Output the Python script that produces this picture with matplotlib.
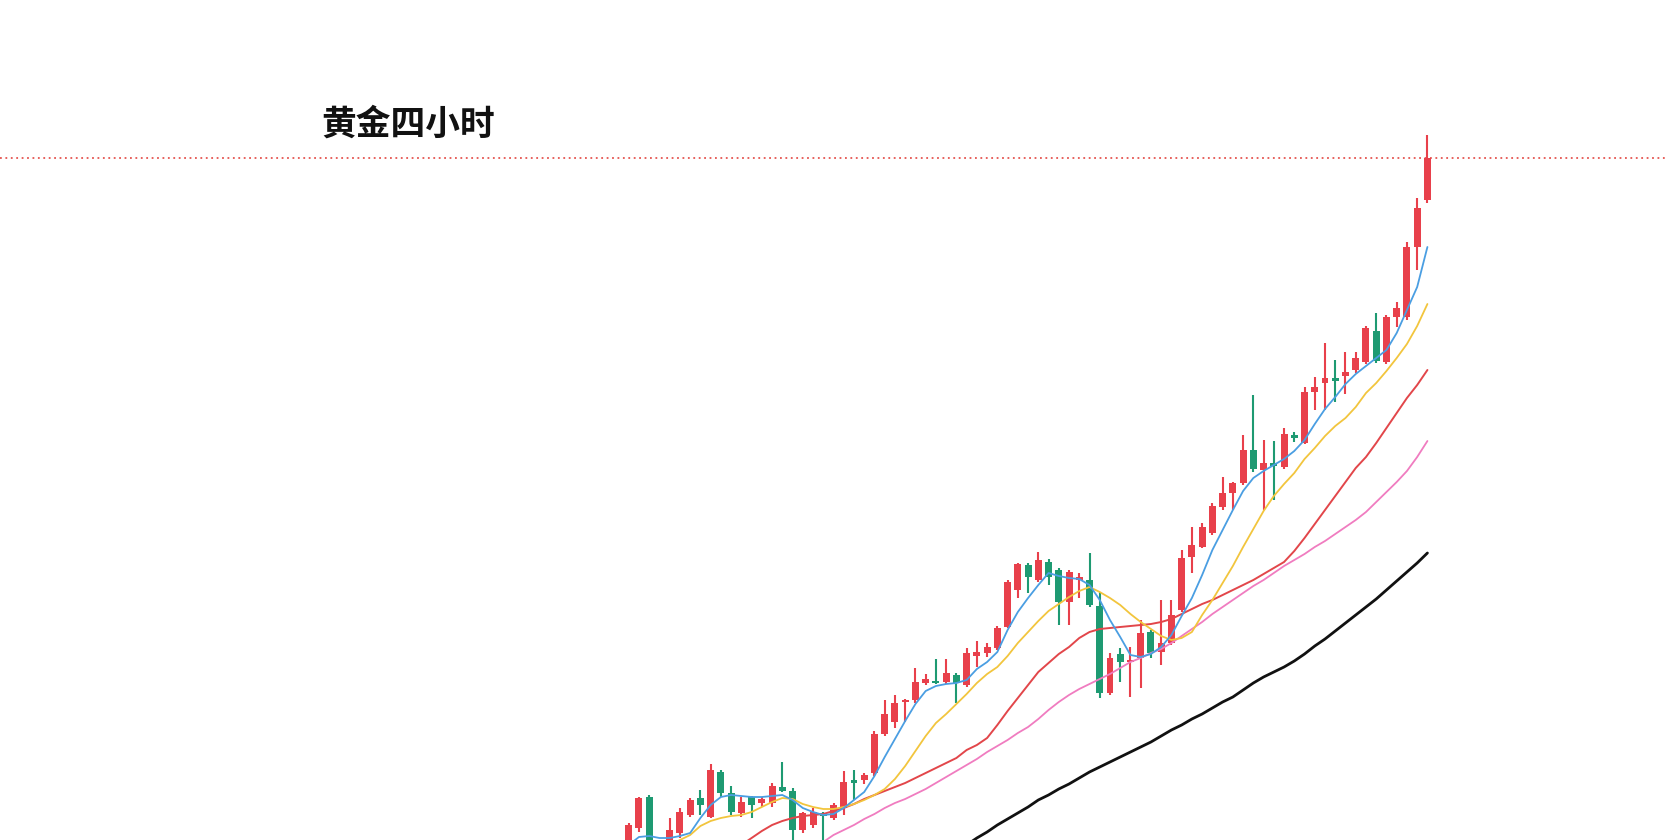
import matplotlib
matplotlib.use("Agg")
import matplotlib.pyplot as plt
import numpy as np

plt.rcParams['font.family'] = ['Noto Sans CJK SC', 'DejaVu Sans']

title = "黄金四小时"

# 4H candles, price in chart points (open, high, low, close)
opens = [-8, 12, 43, -10, -10, 7, 25, 42, 23, 68, 47, 27, 43, 37, 37, 53, 49, 10, 15, 27,
         22, 32, 60, 60, 67, 106, 118, 138, 140, 157, 159, 158, 165, 155, 184, 187, 192, 213, 250, 275,
         260, 278, 270, 238, 260, 260, 234, 147, 186, 178, 182, 208, 188, 197, 230, 283, 293, 307, 333, 347,
         357, 390, 370, 377, 373, 405, 397, 448, 457, 462, 464, 470, 478, 509, 478, 523, 523, 593, 640]
highs = [17, 43, 45, -6, 22, 32, 42, 50, 76, 70, 54, 43, 44, 43, 57, 78, 52, 28, 32, 28,
         37, 69, 70, 67, 109, 140, 145, 141, 172, 166, 181, 181, 167, 192, 199, 197, 214, 260, 277, 277,
         288, 281, 272, 270, 267, 287, 248, 187, 192, 193, 220, 210, 240, 240, 290, 313, 317, 337, 363, 358,
         405, 445, 400, 399, 412, 408, 453, 463, 497, 480, 488, 488, 514, 527, 525, 538, 598, 642, 705]
lows = [-12, 8, -12, -25, -15, 2, 23, 25, 22, 43, 25, 23, 22, 33, 33, 48, 0, 7, 12, 0,
        20, 25, 40, 56, 64, 104, 112, 118, 137, 155, 156, 156, 137, 153, 173, 183, 190, 212, 242, 247,
        258, 255, 215, 215, 242, 233, 142, 145, 158, 143, 152, 182, 175, 195, 228, 267, 292, 305, 330, 330,
        355, 368, 330, 340, 371, 398, 396, 430, 430, 438, 446, 467, 476, 477, 476, 513, 520, 570, 637]
closes = [15, 42, -8, -20, 10, 28, 40, 35, 70, 47, 28, 38, 35, 41, 54, 49, 10, 27, 28, 24,
          35, 58, 57, 65, 106, 126, 137, 140, 158, 161, 157, 167, 157, 187, 188, 193, 212, 258, 276, 263,
          280, 263, 238, 268, 263, 235, 147, 182, 178, 180, 207, 187, 197, 225, 282, 295, 313, 334, 347, 357,
          390, 371, 377, 374, 406, 402, 448, 453, 462, 459, 468, 482, 512, 479, 523, 532, 593, 632, 682]

# moving averages (start index, values)
ma5_start = 0
ma5 = [-5, 3, 4, 2, 2, 4, 7, 22, 35, 43, 45, 44, 43, 43, 44, 45, 40, 32, 28, 25,
       26, 32, 40, 48, 64, 83, 101, 119, 136, 149, 154, 156, 157, 160, 171, 178, 188, 210, 228, 242,
       255, 267, 264, 262, 261, 255, 240, 220, 203, 185, 183, 186, 193, 205, 224, 242, 265, 290, 310, 330,
       349, 362, 369, 375, 381, 389, 400, 416, 431, 443, 456, 466, 474, 482, 490, 507, 530, 553, 593]
ma10_start = 4
ma10 = [-5, 0, 5, 14, 19, 22, 24, 25, 28, 33, 38, 42, 41, 36, 33, 31, 31, 33, 36, 40,
        45, 51, 61, 74, 89, 104, 117, 126, 136, 146, 157, 166, 173, 184, 197, 208, 219, 229, 236, 243,
        249, 253, 248, 242, 235, 226, 218, 211, 204, 200, 202, 208, 225, 240, 257, 274, 293, 311, 329, 344,
        356, 367, 381, 392, 404, 414, 422, 433, 447, 457, 469, 482, 496, 514, 536]
ma20_start = 11
ma20 = [-5, 2, 9, 15, 19, 22, 24, 25, 26, 29, 32, 36, 41, 45, 49, 53, 57, 62, 67, 72,
        77, 82, 90, 95, 102, 115, 129, 142, 155, 168, 177, 186, 193, 202, 208, 211, 212, 213, 214, 215,
        216, 218, 221, 226, 231, 236, 240, 245, 250, 255, 260, 266, 272, 278, 289, 302, 316, 330, 344, 358,
        372, 383, 397, 412, 427, 442, 455, 470]
ma30_start = 19
ma30 = [-2, 5, 10, 15, 21, 26, 32, 37, 41, 46, 51, 57, 63, 69, 75, 81, 88, 94, 100, 107,
        113, 121, 130, 138, 145, 151, 156, 161, 166, 172, 178, 182, 187, 191, 197, 204, 211, 218, 226, 233,
        240, 247, 254, 260, 267, 274, 280, 286, 293, 299, 306, 313, 320, 328, 338, 348, 358, 369, 383, 399]
ma60_start = 33
ma60 = [-5, 2, 8, 15, 21, 27, 33, 40, 45, 51, 56, 62, 68, 73, 78, 83, 88, 93, 98, 104,
        110, 115, 121, 126, 132, 138, 143, 150, 157, 163, 168, 173, 179, 186, 194, 201, 209, 217, 225, 233,
        241, 250, 259, 268, 277, 287]

UP = '#e8404b'
DOWN = '#1e9a72'

fig = plt.figure(figsize=(16.66, 8.4), dpi=100)
fig.patch.set_facecolor('white')
ax = fig.add_axes([0, 0, 1, 1])

o = np.array(opens, float)
h = np.array(highs, float)
l = np.array(lows, float)
c = np.array(closes, float)
idx = np.arange(len(c))
colors = [UP if cc >= oo else DOWN for oo, cc in zip(o, c)]

# wicks and bodies
ax.vlines(idx, l, h, colors=colors, linewidth=1.5, zorder=3)
body_lo = np.minimum(o, c)
body_h = np.maximum(np.abs(c - o), 1.5)
ax.bar(idx, body_h, bottom=body_lo, width=0.68, color=colors, linewidth=0, zorder=4)

# MA lines
for start, vals, col, lw in [(ma60_start, ma60, '#111111', 2.0),
                             (ma30_start, ma30, '#f07cc0', 1.3),
                             (ma20_start, ma20, '#e2464a', 1.4),
                             (ma10_start, ma10, '#f2c53d', 1.3),
                             (ma5_start, ma5, '#4a9ee2', 1.3)]:
    xs = np.arange(start, start + len(vals))
    ax.plot(xs, vals, color=col, linewidth=lw, zorder=5, solid_capstyle='round')

# last price line
ax.axhline(closes[-1], color='#e5544f', linestyle=(0, (1, 2)), linewidth=1.3, zorder=2)

ax.set_xlim(-61.4, 101.3)
ax.set_ylim(0, 840)
ax.axis('off')

fig.text(321 / 1666, 1 - 124 / 840, title, fontsize=25, fontweight='bold',
         ha='left', va='center', color='#111111')

fig.savefig('out.png', dpi=100, facecolor='white')
